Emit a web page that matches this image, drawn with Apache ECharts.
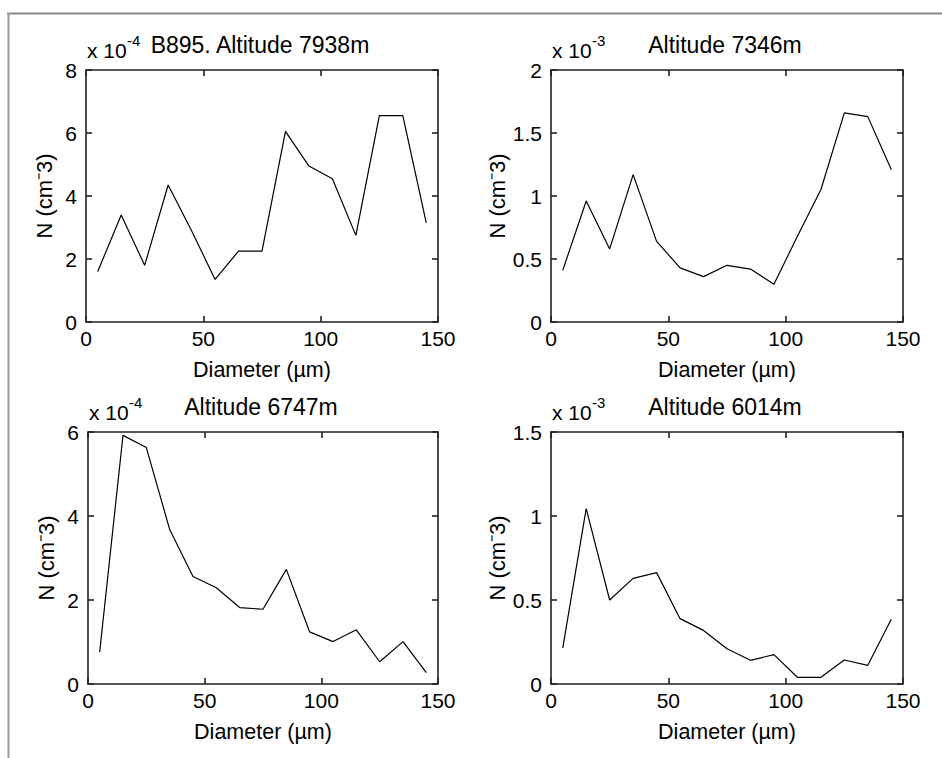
<!DOCTYPE html>
<html>
<head>
<meta charset="utf-8">
<script src="https://cdn.jsdelivr.net/npm/echarts@6/dist/echarts.min.js"></script>
<style>
html,body{margin:0;padding:0;background:#fff;}
#chart{width:942px;height:758px;}
</style>
</head>
<body>
<div id="chart"></div>
<script>
// Diameter bins (µm)
var diameters = [5, 15, 25, 35, 45, 55, 65, 75, 85, 95, 105, 115, 125, 135, 145];

// Series values in displayed units (multiply by 10^exponent for cm^-3)
var n7938 = [1.6, 3.4, 1.8, 4.35, 2.9, 1.35, 2.25, 2.25, 6.05, 4.95, 4.55, 2.75, 6.55, 6.55, 3.15]; // x 10^-4
var n7346 = [0.41, 0.96, 0.58, 1.17, 0.64, 0.43, 0.36, 0.45, 0.42, 0.30, 0.68, 1.05, 1.66, 1.63, 1.21]; // x 10^-3
var n6747 = [0.76, 5.92, 5.63, 3.68, 2.56, 2.29, 1.82, 1.78, 2.73, 1.24, 1.01, 1.29, 0.53, 1.01, 0.27]; // x 10^-4
var n6014 = [0.214, 1.044, 0.50, 0.629, 0.663, 0.389, 0.319, 0.21, 0.141, 0.175, 0.04, 0.04, 0.143, 0.111, 0.385]; // x 10^-3

var titles = ['B895. Altitude 7938m', 'Altitude 7346m', 'Altitude 6747m', 'Altitude 6014m'];
var exponents = ['-4', '-3', '-4', '-3'];
var yMax = [8, 2, 6, 1.5];
var yInterval = [2, 0.5, 2, 0.5];
var xTicks = [0, 50, 100, 150];
var xLabel = 'Diameter (µm)';
var yLabel = 'N (cm⁻3)';

var seriesData = [n7938, n7346, n6747, n6014];

var grids = [
  {left: 86, top: 70, width: 352, height: 252},
  {left: 551, top: 70, width: 352, height: 252},
  {left: 88, top: 432, width: 350, height: 252},
  {left: 551, top: 432, width: 352, height: 252}
];

var FONT = '"Liberation Sans", Arial, Helvetica, sans-serif';
var FS = 21;
var axisColor = '#222';

var xAxes = [], yAxes = [], series = [], graphics = [];

grids.forEach(function (g, i) {
  var lineStyle = {color: axisColor, width: 1.6};
  xAxes.push({
    type: 'value', gridIndex: i, min: xTicks[0], max: xTicks[xTicks.length - 1], interval: 50,
    position: 'bottom',
    axisLine: {show: true, onZero: false, lineStyle: lineStyle},
    axisTick: {show: true, inside: true, length: 6, lineStyle: lineStyle},
    axisLabel: {show: true, fontSize: FS, fontFamily: FONT, color: '#000', margin: 6},
    splitLine: {show: false},
    name: xLabel, nameLocation: 'middle', nameGap: 37,
    nameTextStyle: {fontSize: 21.5, fontFamily: FONT, color: '#000'}
  });
  xAxes.push({
    type: 'value', gridIndex: i, min: xTicks[0], max: xTicks[xTicks.length - 1], interval: 50,
    position: 'top',
    axisLine: {show: true, onZero: false, lineStyle: lineStyle},
    axisTick: {show: true, inside: true, length: 6, lineStyle: lineStyle},
    axisLabel: {show: false},
    splitLine: {show: false}
  });
  yAxes.push({
    type: 'value', gridIndex: i, min: 0, max: yMax[i], interval: yInterval[i],
    position: 'left',
    axisLine: {show: true, onZero: false, lineStyle: lineStyle},
    axisTick: {show: true, inside: true, length: 6, lineStyle: lineStyle},
    axisLabel: {show: true, fontSize: FS, fontFamily: FONT, color: '#000', margin: 9},
    splitLine: {show: false},
    name: yLabel, nameLocation: 'middle', nameGap: 31, nameRotate: 90,
    nameTextStyle: {fontSize: 22, fontFamily: FONT, color: '#000'}
  });
  yAxes.push({
    type: 'value', gridIndex: i, min: 0, max: yMax[i], interval: yInterval[i],
    position: 'right',
    axisLine: {show: true, onZero: false, lineStyle: lineStyle},
    axisTick: {show: true, inside: true, length: 6, lineStyle: lineStyle},
    axisLabel: {show: false},
    splitLine: {show: false}
  });
  series.push({
    type: 'line', xAxisIndex: i * 2, yAxisIndex: i * 2,
    data: diameters.map(function (d, k) { return [d, seriesData[i][k]]; }),
    symbol: 'none', silent: true, animation: false,
    lineStyle: {color: '#000', width: 1.2}
  });
  // title
  graphics.push({
    type: 'text', silent: true,
    style: {
      text: titles[i], x: g.left + g.width / 2 - 2, y: g.top - 14,
      align: 'center', verticalAlign: 'bottom',
      font: '23px ' + FONT, fill: '#000'
    }
  });
  // exponent "x 10^-n"
  graphics.push({
    type: 'text', silent: true,
    style: {
      text: 'x 10', x: g.left + 1, y: g.top - 9,
      align: 'left', verticalAlign: 'bottom',
      font: FS + 'px ' + FONT, fill: '#000'
    }
  });
  graphics.push({
    type: 'text', silent: true,
    style: {
      text: exponents[i], x: g.left + 41, y: g.top - 22,
      align: 'left', verticalAlign: 'bottom',
      font: '15px ' + FONT, fill: '#000'
    }
  });
});

// outer figure frame
graphics.push({type: 'line', silent: true, shape: {x1: 7, y1: 13.5, x2: 942, y2: 13.5}, style: {stroke: '#888', lineWidth: 2}});
graphics.push({type: 'line', silent: true, shape: {x1: 8.5, y1: 13, x2: 8.5, y2: 758}, style: {stroke: '#999', lineWidth: 2}});

var chart = echarts.init(document.getElementById('chart'), null, {renderer: 'svg'});
chart.setOption({
  backgroundColor: '#fff',
  animation: false,
  grid: grids.map(function (g) { return {left: g.left, top: g.top, width: g.width, height: g.height, containLabel: false}; }),
  xAxis: xAxes,
  yAxis: yAxes,
  series: series,
  graphic: graphics
});
</script>
</body>
</html>
